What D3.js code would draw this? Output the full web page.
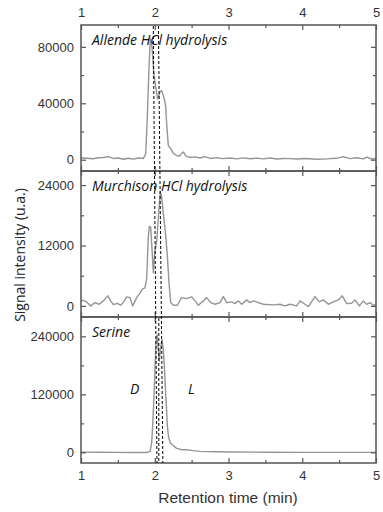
<!DOCTYPE html>
<html>
<head>
<meta charset="utf-8">
<script src="https://cdn.jsdelivr.net/npm/d3@7"></script>
<style>
  body { margin: 0; background: #fff; }
  svg { display: block; }
</style>
</head>
<body>
<div id="chart"></div>
<script>
// retention time (min) and signal
var allendeTime = [1.00, 1.077, 1.167, 1.235, 1.303, 1.371, 1.438, 1.506, 1.574, 1.642, 1.710, 1.777, 1.845, 1.877, 1.899, 1.922, 1.940, 1.963, 1.986, 2.012, 2.040, 2.071, 2.094, 2.125, 2.148, 2.162, 2.184, 2.216, 2.252, 2.297, 2.333, 2.365, 2.388, 2.424, 2.478, 2.546, 2.614, 2.681, 2.749, 2.840, 2.930, 3.020, 3.111, 3.201, 3.292, 3.382, 3.472, 3.563, 3.653, 3.743, 3.834, 3.924, 4.015, 4.105, 4.196, 4.286, 4.376, 4.467, 4.557, 4.647, 4.738, 4.828, 4.873, 4.941, 5.00];
var allendeSignal = [1200, 1000, 700, 1400, 1600, 2200, 900, 1200, 300, 1000, 400, 1200, 900, 4000, 30000, 65000, 86000, 80000, 62000, 52000, 43000, 48000, 49000, 44000, 38000, 25000, 10000, 8000, 4500, 3000, 2500, 4500, 5500, 2500, 1600, 2000, 1200, 2200, 900, 1500, 800, 1200, 600, 1300, 700, 1100, 600, 1200, 500, 900, 800, 500, 900, 700, 300, 400, 800, 1000, 2200, 800, 1400, 600, 1800, 500, 900];

var murchisonTime = [1.00, 1.032, 1.077, 1.131, 1.190, 1.244, 1.303, 1.362, 1.402, 1.438, 1.493, 1.538, 1.583, 1.619, 1.664, 1.701, 1.755, 1.800, 1.836, 1.868, 1.890, 1.913, 1.927, 1.945, 1.963, 1.981, 1.999, 2.026, 2.053, 2.076, 2.094, 2.116, 2.148, 2.171, 2.193, 2.216, 2.252, 2.306, 2.365, 2.433, 2.501, 2.546, 2.591, 2.659, 2.704, 2.758, 2.817, 2.885, 2.930, 2.975, 3.043, 3.088, 3.133, 3.179, 3.246, 3.292, 3.337, 3.405, 3.472, 3.608, 3.698, 3.766, 3.834, 3.924, 3.970, 4.037, 4.083, 4.173, 4.231, 4.286, 4.353, 4.421, 4.489, 4.543, 4.602, 4.670, 4.715, 4.774, 4.828, 4.873, 4.919, 4.964, 5.00];
var murchisonSignal = [1000, 1100, 800, 0, 650, 330, 1000, 2000, 1000, 260, 520, 130, 900, 1800, 1650, 0, 1650, 2600, 3400, 3600, 5300, 13800, 15800, 15600, 11200, 6600, 10500, 12800, 18400, 22700, 21700, 18400, 14100, 9900, 4600, 660, 130, 130, 1650, 1450, 1800, 1000, 130, 1000, 1650, 660, 330, 660, 1850, 660, 800, 460, 1000, 330, 1200, 660, 1000, 660, 330, 200, 330, 0, 330, 0, 1000, 330, -130, 1850, 800, 1200, 330, 800, 1200, 2000, 460, 530, 1200, 0, 1000, 330, 660, 130, 260];

var serineTime = [1.00, 1.258, 1.484, 1.710, 1.890, 1.936, 1.958, 1.976, 1.990, 2.003, 2.017, 2.031, 2.044, 2.062, 2.080, 2.099, 2.116, 2.134, 2.153, 2.171, 2.189, 2.216, 2.252, 2.297, 2.365, 2.433, 2.523, 2.614, 2.840, 3.066, 3.518, 3.970, 4.421, 5.00];
var serineSignal = [500, 200, 0, -300, -300, 2000, 19000, 68000, 116000, 172000, 227000, 243000, 220000, 189000, 217000, 233000, 213000, 165000, 109000, 54000, 30000, 19000, 14000, 8300, 5500, 5500, 3500, 2000, 1400, 700, 300, 0, 0, 0];

var panelNames = ["Allende HCl hydrolysis", "Murchison HCl hydrolysis", "Serine"];
var yDomains = [[-8000, 95500], [-2200, 26800], [-22000, 280000]];
var yMajor = [[0, 40000, 80000], [0, 12000, 24000], [0, 120000, 240000]];
var yMinor = [[20000, 60000], [6000, 18000], [60000, 180000]];
var xMajor = [1, 2, 3, 4, 5];
var xMinor = [1.5, 2.5, 3.5, 4.5];

// dashed markers (time at top of figure, time at bottom of figure)
var dashTop = [1.98, 2.05];
var dashBottom = [2.03, 2.11];
var dashSerine = [2.055];

var width = 383, height = 512;
var left = 81, right = 376, panelTop = 25, panelH = 146;
var frameColor = "#555";
var tickFont = "'Liberation Sans', Arial, sans-serif";
var labelFont = "'Open Sans', sans-serif";

var svg = d3.select("#chart").append("svg")
	.attr("width", width)
	.attr("height", height);

var x = d3.scaleLinear().domain([1, 5]).range([left, right]);

var traces = [
	d3.zip(allendeTime, allendeSignal),
	d3.zip(murchisonTime, murchisonSignal),
	d3.zip(serineTime, serineSignal)
];

var defs = svg.append("defs");

traces.forEach(function(data, i) {
	var top = panelTop + i * panelH;
	var y = d3.scaleLinear().domain(yDomains[i]).range([top + panelH, top]);

	defs.append("clipPath").attr("id", "clip" + i)
		.append("rect")
		.attr("x", left).attr("y", top)
		.attr("width", right - left).attr("height", panelH);

	var g = svg.append("g");

	// trace
	var line = d3.line()
		.x(function(d) { return x(d[0]) })
		.y(function(d) { return y(d[1]) });

	g.append("path")
		.datum(data)
		.attr("clip-path", "url(#clip" + i + ")")
		.attr("fill", "none")
		.attr("stroke", "#959595")
		.attr("stroke-width", 1.4)
		.attr("stroke-linejoin", "round")
		.attr("d", line);

	// axes, ticks pointing inward
	var axes = [
		d3.axisLeft(y).tickValues(yMajor[i]).tickFormat(d3.format("d")).tickSizeInner(-5).tickSizeOuter(0).tickPadding(7),
		d3.axisRight(y).tickValues(yMajor[i]).tickSizeInner(-5).tickSizeOuter(0).tickFormat(""),
		d3.axisTop(x).tickValues(xMajor).tickFormat(d3.format("d")).tickSizeInner(-5).tickSizeOuter(0).tickPadding(8),
		d3.axisBottom(x).tickValues(xMajor).tickFormat(d3.format("d")).tickSizeInner(-5).tickSizeOuter(0).tickPadding(8)
	];
	var minorAxes = [
		d3.axisLeft(y).tickValues(yMinor[i]).tickSize(-3).tickFormat(""),
		d3.axisRight(y).tickValues(yMinor[i]).tickSize(-3).tickFormat(""),
		d3.axisTop(x).tickValues(xMinor).tickSize(-3).tickFormat(""),
		d3.axisBottom(x).tickValues(xMinor).tickSize(-3).tickFormat("")
	];
	var shifts = [
		"translate(" + left + ",0)",
		"translate(" + right + ",0)",
		"translate(0," + top + ")",
		"translate(0," + (top + panelH) + ")"
	];

	if (i !== 0) axes[2].tickFormat("");
	if (i !== 2) axes[3].tickFormat("");

	axes.forEach(function(ax, k) {
		g.append("g").attr("transform", shifts[k]).call(ax);
		g.append("g").attr("transform", shifts[k]).call(minorAxes[k]);
	});

	g.selectAll(".domain").remove();
	g.selectAll(".tick line").attr("stroke", frameColor).attr("stroke-width", 1.2);
	g.selectAll(".tick text")
		.attr("fill", "#333")
		.style("font-family", tickFont)
		.style("font-size", "13px");

	g.append("rect")
		.attr("x", left).attr("y", top)
		.attr("width", right - left).attr("height", panelH)
		.attr("fill", "none")
		.attr("stroke", frameColor)
		.attr("stroke-width", 1.5);

	g.append("text")
		.attr("x", left + 11)
		.attr("y", top + 20)
		.style("font-family", labelFont)
		.style("font-style", "italic")
		.style("font-size", "14px")
		.attr("fill", "#111")
		.text(panelNames[i]);
});

// enantiomer labels on the serine panel
var serTop = panelTop + 2 * panelH;
svg.selectAll(".enant")
	.data([["D", 130], ["L", 188]])
	.enter().append("text")
	.attr("class", "enant")
	.attr("x", function(d) { return d[1] })
	.attr("y", serTop + 77)
	.style("font-family", labelFont)
	.style("font-style", "italic")
	.style("font-size", "14px")
	.attr("fill", "#111")
	.text(function(d) { return d[0] });

// dashed reference lines across all panels
var yStart = panelTop + 1, yEnd = panelTop + 3 * panelH;
svg.selectAll(".dash")
	.data(d3.zip(dashTop, dashBottom))
	.enter().append("line")
	.attr("class", "dash")
	.attr("x1", function(d) { return x(d[0]) })
	.attr("x2", function(d) { return x(d[1]) })
	.attr("y1", yStart)
	.attr("y2", yEnd)
	.attr("stroke", "#000")
	.attr("stroke-width", 1)
	.attr("stroke-dasharray", "3,2");

svg.selectAll(".dash2")
	.data(dashSerine)
	.enter().append("line")
	.attr("class", "dash2")
	.attr("x1", function(d) { return x(d) })
	.attr("x2", function(d) { return x(d) })
	.attr("y1", serTop + 1)
	.attr("y2", yEnd)
	.attr("stroke", "#000")
	.attr("stroke-width", 1)
	.attr("stroke-dasharray", "3,2");

// axis titles
svg.append("text")
	.attr("x", 228)
	.attr("y", 503)
	.attr("text-anchor", "middle")
	.style("font-family", tickFont)
	.style("font-size", "15.5px")
	.attr("fill", "#333")
	.text("Retention time (min)");

svg.append("text")
	.attr("transform", "translate(25,255) rotate(-90)")
	.attr("text-anchor", "middle")
	.style("font-family", labelFont)
	.style("font-size", "14px")
	.attr("fill", "#222")
	.text("Signal intensity (u.a.)");
</script>
</body>
</html>
